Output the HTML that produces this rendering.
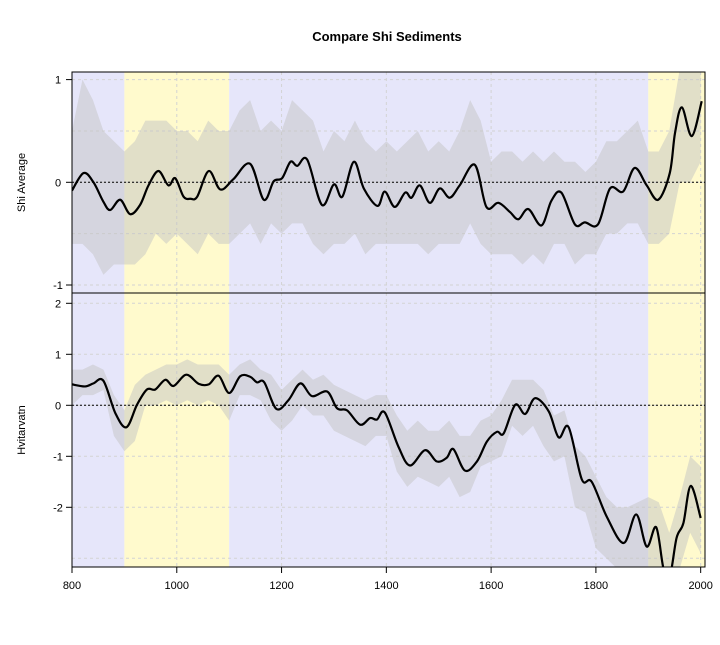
<!DOCTYPE html>
<html><head><meta charset="utf-8"><style>
body{margin:0;background:#fff;}
svg text{font-family:"Liberation Sans",Arial,sans-serif;}
</style></head><body>
<svg id="chart" width="720" height="640" xmlns="http://www.w3.org/2000/svg"></svg>
<script>
const topYears=[800,822,841,860,873,892,911,930,946,965,984,997,1013,1026,1039,1061,1083,1108,1140,1166,1185,1201,1217,1230,1249,1277,1300,1316,1338,1357,1383,1397,1416,1436,1448,1464,1483,1502,1521,1540,1569,1591,1614,1636,1652,1671,1696,1715,1734,1760,1779,1804,1827,1852,1874,1897,1919,1941,1951,1964,1983,2002];
const topVals=[-0.08,0.09,0,-0.19,-0.27,-0.17,-0.31,-0.22,-0.03,0.11,-0.03,0.04,-0.14,-0.16,-0.14,0.11,-0.07,0.03,0.18,-0.17,0.01,0.04,0.2,0.16,0.22,-0.22,-0.02,-0.14,0.2,-0.06,-0.23,-0.09,-0.24,-0.1,-0.15,-0.03,-0.2,-0.06,-0.15,-0.03,0.17,-0.24,-0.2,-0.29,-0.36,-0.26,-0.42,-0.18,-0.1,-0.41,-0.39,-0.41,-0.06,-0.09,0.14,-0.03,-0.17,0.09,0.48,0.73,0.45,0.79];
const botYears=[800,825,841,860,883,904,924,943,959,978,994,1018,1042,1061,1080,1100,1121,1140,1153,1167,1190,1213,1236,1258,1287,1306,1325,1350,1369,1382,1397,1423,1445,1474,1496,1515,1528,1550,1573,1592,1611,1624,1646,1665,1684,1710,1729,1748,1773,1792,1821,1853,1877,1897,1915,1929,1941,1954,1967,1981,2000];
const botVals=[0.41,0.37,0.43,0.48,-0.16,-0.43,0.01,0.31,0.31,0.5,0.38,0.6,0.42,0.41,0.58,0.24,0.57,0.56,0.45,0.45,-0.07,0.1,0.43,0.18,0.27,-0.06,-0.1,-0.38,-0.25,-0.28,-0.14,-0.81,-1.18,-0.88,-1.1,-1.03,-0.86,-1.28,-1.1,-0.71,-0.52,-0.55,0.01,-0.17,0.14,-0.12,-0.63,-0.43,-1.45,-1.5,-2.19,-2.7,-2.14,-2.77,-2.39,-3.2,-3.36,-2.6,-2.31,-1.58,-2.21];
const envYears=[800,820,840,860,880,900,920,940,960,980,1000,1020,1040,1060,1080,1100,1120,1140,1160,1180,1200,1220,1240,1260,1280,1300,1320,1340,1360,1380,1400,1420,1440,1460,1480,1500,1520,1540,1560,1580,1600,1620,1640,1660,1680,1700,1720,1740,1760,1780,1800,1820,1840,1860,1880,1900,1920,1940,1960,1980,2000];
const topHi=[0.5,1.0,0.8,0.5,0.4,0.3,0.4,0.6,0.6,0.6,0.5,0.5,0.4,0.6,0.5,0.5,0.7,0.8,0.5,0.6,0.5,0.8,0.7,0.6,0.3,0.5,0.4,0.6,0.4,0.3,0.4,0.3,0.4,0.5,0.3,0.4,0.3,0.5,0.8,0.6,0.2,0.3,0.3,0.2,0.3,0.2,0.3,0.2,0.2,0.1,0.2,0.4,0.4,0.5,0.6,0.3,0.3,0.5,1.1,1.1,1.1];
const topLo=[-0.6,-0.6,-0.7,-0.9,-0.8,-0.8,-0.8,-0.7,-0.5,-0.6,-0.5,-0.6,-0.7,-0.5,-0.6,-0.6,-0.5,-0.4,-0.6,-0.4,-0.5,-0.4,-0.4,-0.6,-0.7,-0.6,-0.6,-0.5,-0.7,-0.6,-0.6,-0.6,-0.6,-0.6,-0.7,-0.6,-0.6,-0.6,-0.4,-0.6,-0.7,-0.7,-0.7,-0.8,-0.7,-0.8,-0.6,-0.6,-0.8,-0.7,-0.7,-0.5,-0.5,-0.4,-0.4,-0.6,-0.6,-0.5,0.0,0.0,0.2];
const botHi=[0.7,0.7,0.8,0.7,0.2,-0.1,0.4,0.6,0.7,0.8,0.8,0.9,0.8,0.8,0.8,0.6,0.8,0.9,0.7,0.6,0.3,0.5,0.7,0.5,0.6,0.4,0.3,0.2,0.1,0.2,0.2,-0.2,-0.5,-0.3,-0.5,-0.5,-0.3,-0.6,-0.6,-0.3,-0.2,0.1,0.5,0.5,0.5,0.3,-0.2,-0.1,-0.8,-1.0,-1.4,-1.8,-2.0,-2.0,-1.9,-1.8,-1.9,-2.5,-1.8,-1.0,-1.2];
const botLo=[0.0,0.2,0.2,0.3,-0.6,-0.9,-0.7,0.0,0.0,0.1,0.0,0.1,0.0,0.1,0.0,-0.3,0.2,0.2,0.1,-0.3,-0.5,-0.3,0.0,-0.2,-0.2,-0.5,-0.6,-0.7,-0.8,-0.6,-0.6,-1.3,-1.6,-1.4,-1.5,-1.6,-1.4,-1.8,-1.7,-1.2,-1.1,-1.0,-0.4,-0.6,-0.4,-0.8,-1.1,-1.0,-2.0,-2.1,-2.8,-3.0,-3.2,-3.2,-3.2,-3.2,-3.2,-3.2,-3.2,-2.5,-2.9];
const xTicks=[800,1000,1200,1400,1600,1800,2000];
const topTicks=[1,0,-1], topGrid=[1,0.5,0,-0.5,-1];
const botTicks=[2,1,0,-1,-2], botGrid=[2,1,0,-1,-2,-3];
const periods=[[790,900,'#e6e6fa'],[900,1100,'#fffacd'],[1100,1900,'#e6e6fa'],[1900,2020,'#fffacd']];

const NS='http://www.w3.org/2000/svg';
const svg=document.getElementById('chart');
const L=72,R=705;
const X=y=>72+(y-800)*0.5239;
const panels=[
 {t:72,b:293,Y:v=>182.3-v*102.7,yr:topYears,v:topVals,hi:topHi,lo:topLo,ticks:topTicks,grid:topGrid,label:'Shi Average',n:'top'},
 {t:293,b:567,Y:v=>405.3-v*51,yr:botYears,v:botVals,hi:botHi,lo:botLo,ticks:botTicks,grid:botGrid,label:'Hvitarvatn',n:'bottom'}];
function mk(tag,at,parent){const e=document.createElementNS(NS,tag);for(const k in at)e.setAttribute(k,at[k]);(parent||svg).appendChild(e);return e;}
function smooth(pts){let d='M'+pts[0][0]+','+pts[0][1];for(let i=0;i<pts.length-1;i++){const p0=pts[i-1]||pts[i],p1=pts[i],p2=pts[i+1],p3=pts[i+2]||p2;d+=' C'+(p1[0]+(p2[0]-p0[0])/6)+','+(p1[1]+(p2[1]-p0[1])/6)+' '+(p2[0]-(p3[0]-p1[0])/6)+','+(p2[1]-(p3[1]-p1[1])/6)+' '+p2[0]+','+p2[1];}return d;}
const defs=mk('defs',{});
panels.forEach((p,i)=>{
 const cp=mk('clipPath',{id:'c'+i},defs);mk('rect',{x:L,y:p.t,width:R-L,height:p.b-p.t},cp);
 const g=mk('g',{'clip-path':'url(#c'+i+')'});
 
 
 periods.forEach(q=>{const r=mk('rect',{x:X(q[0]),y:p.t,width:X(q[1])-X(q[0]),height:p.b-p.t,fill:q[2]},g);
  
  });
 xTicks.forEach(t=>mk('line',{x1:X(t),x2:X(t),y1:p.t,y2:p.b,stroke:'#d3d3d3','stroke-dasharray':'3,3'},g));
 p.grid.forEach(t=>mk('line',{x1:L,x2:R,y1:p.Y(t),y2:p.Y(t),stroke:'#d3d3d3','stroke-dasharray':'3,3'},g));
 let d='';envYears.forEach((y,k)=>{d+=(k?'L':'M')+X(y)+','+p.Y(p.hi[k]);});
 for(let k=envYears.length-1;k>=0;k--)d+='L'+X(envYears[k])+','+p.Y(p.lo[k]);
 const env=mk('path',{d:d+'Z',fill:'#c4c4c4','fill-opacity':0.5},g);
 
 
 mk('line',{x1:L,x2:R,y1:p.Y(0),y2:p.Y(0),stroke:'#000','stroke-dasharray':'2,2'},g);
 const ln=mk('path',{d:smooth(p.yr.map((y,k)=>[X(y),p.Y(p.v[k])])),fill:'none',stroke:'#000','stroke-width':2.2},g);
 
 
 mk('rect',{x:L,y:p.t,width:R-L,height:p.b-p.t,fill:'none',stroke:'#000'});
 p.ticks.forEach(t=>{mk('line',{x1:L-6,x2:L,y1:p.Y(t),y2:p.Y(t),stroke:'#000'});
  const tx=mk('text',{x:L-14,y:p.Y(t)+4,'text-anchor':'middle','font-size':11});tx.textContent=t;
  
  });
 const yl=mk('text',{x:25,y:(p.t+p.b)/2,'text-anchor':'middle','font-size':11,transform:'rotate(-90 25 '+((p.t+p.b)/2)+')'});yl.textContent=p.label;
 
 
});
xTicks.forEach(t=>{mk('line',{x1:X(t),x2:X(t),y1:567,y2:573,stroke:'#000'});
 const tx=mk('text',{x:X(t),y:589,'text-anchor':'middle','font-size':11});tx.textContent=t;
 
 });
const ti=mk('text',{x:387,y:41,'text-anchor':'middle','font-size':13,'font-weight':'bold'});ti.textContent='Compare Shi Sediments';


</script>
</body></html>
